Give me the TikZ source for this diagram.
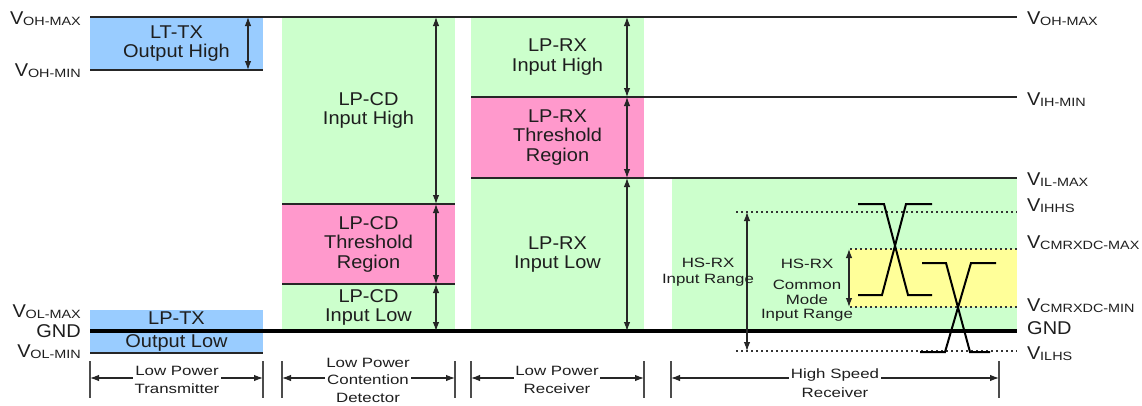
\documentclass[tikz,border=0pt]{standalone}
\usepackage{fontspec}
\setmainfont{Liberation Sans}[FakeStretch=1.08]
\newfontfamily\smallf{Liberation Sans}[FakeStretch=1.25]
\newfontfamily\subf{Liberation Sans}[FakeStretch=1.2]
\usetikzlibrary{arrows.meta}
\definecolor{blu}{RGB}{153,204,255}
\definecolor{grn}{RGB}{204,255,204}
\definecolor{pnk}{RGB}{255,153,204}
\definecolor{yel}{RGB}{255,255,153}
\definecolor{txt}{RGB}{30,30,30}
\newcommand\vsub[1]{V\kern-0.3pt\raisebox{-1.2pt}{\subf\fontsize{12}{12}\selectfont #1}}
\tikzset{
  region/.style={inner sep=0pt, outer sep=0pt, align=center, text=txt,
    font=\fontsize{18.5}{19.5}\selectfont},
  lvl/.style={line width=1.1pt, draw=black!85},
  gndline/.style={line width=3.6pt, draw=black},
  dotl/.style={line width=1.1pt, draw=black!80, dash pattern=on 2pt off 3pt},
  dimarrow/.style={line width=1.1pt, draw=black!85, {Latex[length=9pt,width=6.5pt]}-{Latex[length=9pt,width=6.5pt]}},
  wave/.style={line width=2pt, draw=black},
  bar/.style={line width=1.1pt, draw=black!70},
  blab/.style={fill=white, inner sep=1.5pt, align=center, text=txt,
    font=\smallf\fontsize{13.5}{18.5}\selectfont},
  hslab/.style={inner sep=0pt, align=center, text=txt,
    font=\smallf\fontsize{13.5}{16.5}\selectfont},
  vlab/.style={inner sep=0pt, text=txt, font=\fontsize{18.5}{19.5}\selectfont},
}
\begin{document}
\begin{tikzpicture}[x=1pt,y=-1pt]
\useasboundingbox (0,0) rectangle (1142,405);

% ---------- coloured regions ----------
\node[region, fill=blu, minimum width=173, minimum height=53] (lttx) at (176.5,43.5) {LT-TX\\Output High};
\node[region, fill=blu, minimum width=173, minimum height=43] (lptx) at (176.5,331.5) {LP-TX\\[3pt]Output Low};

\node[region, fill=grn, minimum width=173, minimum height=187] (cdH) at (368.5,110.5) {LP-CD\\Input High};
\node[region, fill=pnk, minimum width=173, minimum height=80] (cdT) at (368.5,244) {LP-CD\\Threshold\\Region};
\node[region, fill=grn, minimum width=173, minimum height=47] (cdL) at (368.5,307.5) {LP-CD\\Input Low};

\node[region, fill=grn, minimum width=173, minimum height=80] (rxH) at (557.5,57) {LP-RX\\Input High};
\node[region, fill=pnk, minimum width=173, minimum height=81] (rxT) at (557.5,137.5) {LP-RX\\Threshold\\Region};
\node[region, fill=grn, minimum width=173, minimum height=153] (rxL) at (557.5,254.5) {LP-RX\\Input Low};

\node[region, fill=grn, minimum width=345, minimum height=153] (hs) at (844.5,254.5) {};
\node[region, fill=yel, minimum width=167, minimum height=58] (cm) at (933.5,278) {};

% ---------- level lines ----------
\draw[lvl] (90,17) -- (1017,17);
\draw[lvl] (90,70) -- (263,70);
\draw[lvl] (471,97) -- (1017,97);
\draw[lvl] (471,178) -- (1017,178);
\draw[lvl] (282,204) -- (455,204);
\draw[lvl] (282,284) -- (455,284);
\draw[lvl] (90,353) -- (263,353);
\draw[gndline] (90,331) -- (1017,331);

\draw[dotl] (736,212) -- (1017,212);
\draw[dotl] (850,249) -- (1017,249);
\draw[dotl] (850,307) -- (1017,307);
\draw[dotl] (736,351) -- (1017,351);

% ---------- vertical range arrows ----------
\coordinate (a1t) at (248,17);  \coordinate (a1b) at (248,70);
\coordinate (c1) at (436,17);   \coordinate (c2) at (436,204);
\coordinate (c3) at (436,284);  \coordinate (c4) at (436,331);
\coordinate (r1) at (627,17);   \coordinate (r2) at (627,97);
\coordinate (r3) at (627,178);  \coordinate (r4) at (627,331);
\coordinate (h1) at (747,212);  \coordinate (h2) at (747,351);
\coordinate (m1) at (849,249);  \coordinate (m2) at (849,307);
\draw[dimarrow] (a1t) -- (a1b);
\draw[dimarrow] (c1) -- (c2);
\draw[dimarrow] (c2) -- (c3);
\draw[dimarrow] (c3) -- (c4);
\draw[dimarrow] (r1) -- (r2);
\draw[dimarrow] (r2) -- (r3);
\draw[dimarrow] (r3) -- (r4);
\draw[dimarrow] (h1) -- (h2);
\draw[dimarrow] (m1) -- (m2);

% ---------- HS labels ----------
\node[hslab] (hsin) at (708,272) {HS-RX\\Input Range};
\node[hslab] (hscm) at (807,290) {HS-RX\\[5pt]Common\\[-2pt]Mode\\[-2pt]Input Range};

% ---------- waveforms ----------
\draw[wave] (858,204) -- (884,204) -- (908,295) -- (932,295);
\draw[wave] (858,295) -- (882,295) -- (906,204) -- (932,204);
\draw[wave] (922,263) -- (946,263) -- (970,352) -- (990,352);
\draw[wave] (920,352) -- (945,352) -- (971,263) -- (996,263);

% ---------- bottom dimension lines ----------
\foreach \x in {90,263,282,455,471,644,671,999} {
  \draw[bar] (\x,361) -- (\x,398);
}
\coordinate (d1a) at (90,378);  \coordinate (d1b) at (263,378);
\coordinate (d2a) at (282,378); \coordinate (d2b) at (455,378);
\coordinate (d3a) at (471,378); \coordinate (d3b) at (644,378);
\coordinate (d4a) at (671,378); \coordinate (d4b) at (999,378);
\draw[dimarrow] (d1a) -- (d1b);
\draw[dimarrow] (d2a) -- (d2b);
\draw[dimarrow] (d3a) -- (d3b);
\draw[dimarrow] (d4a) -- (d4b);
\node[blab] (tx) at (177,380) {Low Power\\Transmitter};
\node[blab, font=\smallf\fontsize{13.5}{17.5}\selectfont, inner sep=1pt] (cd) at (368,380) {Low Power\\Contention\\Detector};
\node[blab] (rx) at (557,380) {Low Power\\Receiver};
\node[blab] (hsr) at (835,383) {High Speed\\Receiver};

% ---------- left voltage labels ----------
\node[vlab, anchor=base east] (lohmax) at (81,24) {\vsub{OH-MAX}};
\node[vlab, anchor=base east] (lohmin) at (81,76) {\vsub{OH-MIN}};
\node[vlab, anchor=base east] (lolmax) at (81,317) {\vsub{OL-MAX}};
\node[vlab, anchor=base east] (lgnd)   at (81,337) {GND};
\node[vlab, anchor=base east] (lolmin) at (81,357) {\vsub{OL-MIN}};

% ---------- right voltage labels ----------
\node[vlab, anchor=base west] (rohmax) at (1027,24)  {\vsub{OH-MAX}};
\node[vlab, anchor=base west] (rihmin) at (1027,105) {\vsub{IH-MIN}};
\node[vlab, anchor=base west] (rilmax) at (1027,185) {\vsub{IL-MAX}};
\node[vlab, anchor=base west] (rihhs)  at (1027,211) {\vsub{IHHS}};
\node[vlab, anchor=base west] (rcmmax) at (1027,248) {\vsub{CMRXDC-MAX}};
\node[vlab, anchor=base west] (rcmmin) at (1027,311) {\vsub{CMRXDC-MIN}};
\node[vlab, anchor=base west] (rgnd)   at (1027,334) {GND};
\node[vlab, anchor=base west] (rilhs)  at (1027,359) {\vsub{ILHS}};
\end{tikzpicture}
\end{document}
